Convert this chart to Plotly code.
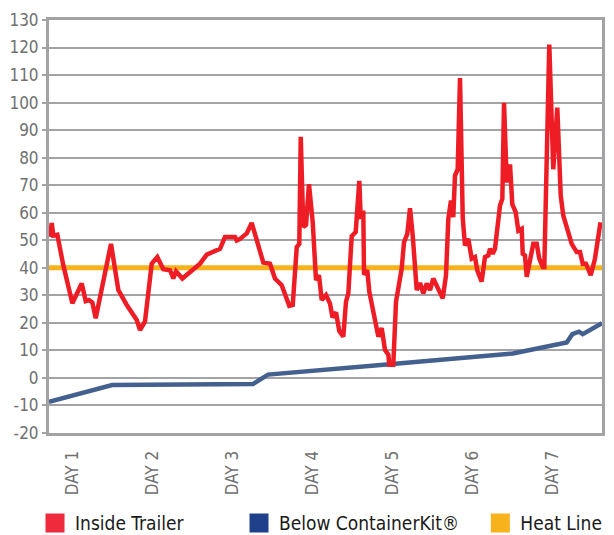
import plotly.graph_objects as go

# Time in days (DAY n tick at n)
red_day = [0.719, 0.740, 0.760, 0.810, 0.885, 0.998, 1.115, 1.165, 1.206, 1.248,
           1.290, 1.385, 1.481, 1.573, 1.678, 1.803, 1.844, 1.906, 1.990, 2.060,
           2.135, 2.219, 2.260, 2.294, 2.373, 2.594, 2.678, 2.844, 2.906, 3.031,
           3.053, 3.094, 3.178, 3.240, 3.303, 3.385, 3.469, 3.531, 3.615, 3.710,
           3.753, 3.803, 3.835, 3.853, 3.885, 3.919, 3.956, 4.003, 4.044, 4.081,
           4.115, 4.169, 4.219, 4.250, 4.294, 4.335, 4.385, 4.419, 4.448, 4.490,
           4.540, 4.585, 4.603, 4.635, 4.644, 4.685, 4.710, 4.823, 4.865, 4.906,
           4.948, 4.960, 5.010, 5.044, 5.115, 5.144, 5.185, 5.219, 5.253, 5.303,
           5.344, 5.385, 5.428, 5.469, 5.510, 5.573, 5.628, 5.669, 5.698, 5.731,
           5.760, 5.781, 5.815, 5.844, 5.878, 5.906, 5.948, 5.990, 6.031, 6.060,
           6.115, 6.156, 6.198, 6.219, 6.253, 6.281, 6.344, 6.373, 6.394, 6.428,
           6.469, 6.498, 6.540, 6.573, 6.615, 6.628, 6.656, 6.678, 6.719, 6.760,
           6.803, 6.835, 6.878, 6.898, 6.960, 7.010, 7.060, 7.103, 7.135, 7.240,
           7.303, 7.344, 7.378, 7.419, 7.478, 7.531, 7.600]
inside_trailer = [51.2, 56.3, 51.7, 52.0, 40.9, 27.1, 34.3, 27.9, 28.3, 27.4,
                  21.7, 34.3, 48.7, 31.9, 26.5, 21.0, 17.4, 20.5, 41.5, 43.9,
                  39.5, 39.1, 36.1, 38.7, 36.1, 41.5, 44.8, 46.9, 51.2, 51.2,
                  49.9, 50.5, 52.5, 56.3, 49.9, 41.9, 41.5, 36.1, 33.7, 26.2,
                  26.5, 47.5, 48.7, 87.6, 54.8, 55.6, 70.4, 56.5, 35.5, 37.3,
                  28.3, 30.1, 27.0, 22.0, 23.8, 17.0, 15.0, 27.7, 30.7, 51.5,
                  53.0, 71.6, 57.8, 60.8, 37.5, 39.1, 31.3, 15.0, 18.1, 10.2,
                  8.4, 4.8, 4.8, 27.7, 39.7, 49.3, 52.3, 61.6, 51.7, 31.9,
                  34.5, 30.7, 34.3, 31.9, 36.1, 31.9, 28.9, 37.3, 57.8, 64.4,
                  58.4, 73.4, 75.8, 108.9, 58.2, 48.1, 50.5, 43.3, 43.9, 39.1,
                  35.0, 43.9, 44.5, 46.9, 45.1, 46.9, 62.6, 65.0, 99.9, 71.0,
                  77.6, 63.0, 60.2, 53.5, 54.2, 45.1, 44.5, 36.7, 42.1, 48.7,
                  48.7, 43.3, 40.3, 40.3, 121.1, 75.8, 98.2, 66.2, 59.0, 48.7,
                  45.7, 45.7, 41.5, 41.5, 37.3, 43.3, 56.5]

blue_day = [0.706, 1.495, 3.258, 3.444, 4.998, 6.505, 7.178, 7.248, 7.331, 7.378, 7.619]
below_containerkit = [-8.7, -2.6, -2.2, 1.2, 5.1, 8.9, 12.9, 15.9, 16.8, 15.9, 19.9]

heat_day = [0.706, 7.619]
heat_line = [40, 40]

day_ticks = [1, 2, 3, 4, 5, 6, 7]
day_labels = ["DAY 1", "DAY 2", "DAY 3", "DAY 4", "DAY 5", "DAY 6", "DAY 7"]

y_ticks = [-20, -10, 0, 10, 20, 30, 40, 50, 60, 70, 80, 90, 100, 110, 120, 130]
y_labels = ["-20", "-10", "0", "10", "20", "30", "40", "50", "60", "70",
            "80", "90", "100", "110", "120", "130"]

RED = "#EE1D25"
BLUE = "#44608F"
BLUE_LEG = "#1F418B"
ORANGE = "#F8B21C"
GRID = "#A3A3A6"
FONT = "DejaVu Sans Condensed"

fig = go.Figure()
fig.add_trace(go.Scatter(x=heat_day, y=heat_line, mode="lines",
                         line=dict(color=ORANGE, width=5), showlegend=False))
fig.add_trace(go.Scatter(x=blue_day, y=below_containerkit, mode="lines",
                         line=dict(color=BLUE, width=4.5), showlegend=False))
fig.add_trace(go.Scatter(x=red_day, y=inside_trailer, mode="lines",
                         line=dict(color=RED, width=4.5), showlegend=False))

# legend entries, each in its own legend box
legend_items = [("Inside Trailer", "#EE2A3C", "legend"),
                ("Below ContainerKit®", BLUE_LEG, "legend2"),
                ("Heat Line", ORANGE, "legend3")]
for name, col, lg in legend_items:
    fig.add_trace(go.Scatter(x=[None], y=[None], mode="markers", name=name, legend=lg,
                             marker=dict(symbol="square", size=16, color=col,
                                         line=dict(color=col, width=3))))

leg_common = dict(orientation="h", y=-0.218, yanchor="middle", xanchor="left",
                  font=dict(family=FONT, size=19, color="#1A1A1A"),
                  itemsizing="trace", itemwidth=30, bgcolor="rgba(0,0,0,0)")

# page body has an 8px margin, so the figure is sized 8px smaller
fig.update_layout(
    width=606, height=527,
    margin=dict(l=41, r=12, t=12, b=102, autoexpand=False),
    paper_bgcolor="white", plot_bgcolor="white",
    font=dict(family=FONT, color="#707070", size=17),
    legend=dict(x=-0.0253, **leg_common),
    legend2=dict(x=0.3436, **leg_common),
    legend3=dict(x=0.780, **leg_common),
    showlegend=True,
)
fig.update_xaxes(range=[0.706, 7.619], tickmode="array", tickvals=day_ticks, ticktext=day_labels,
                 tickangle=-90, showgrid=False, zeroline=False, automargin=False,
                 showline=True, linecolor=GRID, linewidth=3, mirror=True,
                 ticks="outside", ticklen=8, tickcolor="rgba(0,0,0,0)",
                 tickfont=dict(family=FONT, size=17, color="#707070"))
fig.update_yaxes(range=[-20, 130], tickmode="array", tickvals=y_ticks, ticktext=y_labels,
                 showgrid=True, gridcolor=GRID, gridwidth=2,
                 zeroline=False, showline=True, linecolor=GRID, linewidth=3, mirror=True,
                 automargin=False,
                 ticks="outside", ticklen=4, tickcolor=GRID, tickwidth=2,
                 tickfont=dict(family=FONT, size=17, color="#707070"))

fig.write_html("out.html")
